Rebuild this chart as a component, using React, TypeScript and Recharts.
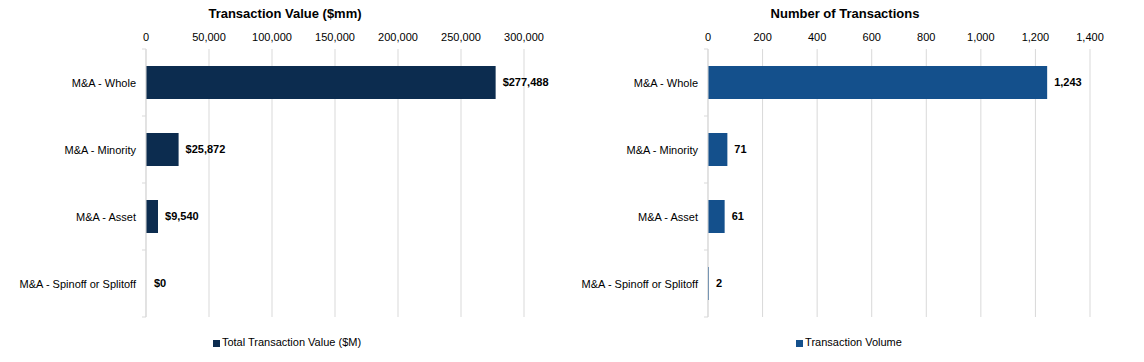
import { BarChart, Bar, XAxis, YAxis, CartesianGrid, Legend, LabelList, Rectangle } from "recharts"

const categories = ["M&A - Whole", "M&A - Minority", "M&A - Asset", "M&A - Spinoff or Splitoff"]
const transactionValue = [277488, 25872, 9540, 0]
const transactionCount = [1243, 71, 61, 2]
const valueTicks = [0, 50000, 100000, 150000, 200000, 250000, 300000]
const countTicks = [0, 200, 400, 600, 800, 1000, 1200, 1400]

const valueData = categories.map((name, i) => ({ name, value: transactionValue[i] }))
const countData = categories.map((name, i) => ({ name, count: transactionCount[i] }))

const FONT = "'Liberation Sans', Arial, sans-serif"
const GRID = "#d9d9d9"
const BAND = 67

const fmt = (v: number) => v.toLocaleString("en-US")

function CategoryTick(props: any) {
  const { x, y, payload, index } = props
  const axisX = x + 10
  const half = payload && payload.offset ? payload.offset : BAND / 2
  return (
    <g>
      <text x={x} y={y} dy={4} textAnchor="end" fontSize={11} fontFamily={FONT} fill="#000">
        {payload.value}
      </text>
      <line x1={axisX - 4} x2={axisX} y1={y - half} y2={y - half} stroke={GRID} />
      {index === categories.length - 1 && <line x1={axisX - 4} x2={axisX} y1={y + half} y2={y + half} stroke={GRID} />}
    </g>
  )
}

function Panel(props: {
  left: number
  width: number
  axisWidth: number
  legendShift: number
  title: string
  data: any[]
  dataKey: string
  ticks: number[]
  color: string
  legend: string
  marginRight: number
  labelFmt: (v: number) => string
}) {
  const { left, width, axisWidth, legendShift, title, data, dataKey, ticks, color, legend, marginRight, labelFmt } = props
  // zero-valued bars keep a 1px slot so their label still shows, but draw nothing
  const barShape = (p: any) => (p.payload && p.payload[dataKey] === 0 ? <g /> : <Rectangle {...p} />)
  return (
    <div style={{ position: "absolute", left, top: 0, width, height: 362 }}>
      <div
        style={{
          position: "absolute",
          top: 6,
          left: 0,
          width,
          textAlign: "center",
          fontFamily: FONT,
          fontWeight: "bold",
          fontSize: 13,
          color: "#000",
        }}
      >
        {title}
      </div>
      <BarChart
        width={width}
        height={362}
        data={data}
        layout="vertical"
        barSize={33}
        margin={{ top: 29, right: marginRight, bottom: 45, left: 0 }}
      >
        <CartesianGrid horizontal={false} stroke={GRID} />
        <XAxis
          type="number"
          orientation="top"
          domain={[ticks[0], ticks[ticks.length - 1]]}
          ticks={ticks}
          tickFormatter={fmt}
          axisLine={false}
          tickLine={false}
          height={20}
          tick={{ fontSize: 11, fontFamily: FONT, fill: "#000" }}
          interval={0}
        />
        <YAxis
          type="category"
          dataKey="name"
          width={axisWidth}
          axisLine={{ stroke: GRID }}
          tickLine={false}
          tickMargin={0}
          tickSize={10}
          tick={<CategoryTick />}
          interval={0}
        />
        <Legend
          verticalAlign="middle"
          align="center"
          layout="horizontal"
          iconType="square"
          iconSize={7}
          wrapperStyle={{ top: 336, left: legendShift, width, fontFamily: FONT, fontSize: 11 }}
          formatter={() => <span style={{ color: "#000", marginLeft: -2 }}>{legend}</span>}
        />
        <Bar dataKey={dataKey} name={legend} fill={color} minPointSize={1} shape={barShape} isAnimationActive={false}>
          <LabelList
            dataKey={dataKey}
            position="right"
            offset={7}
            formatter={(v: any) => labelFmt(Number(v))}
            style={{ fontSize: 11, fontFamily: FONT, fontWeight: "bold", fill: "#000" }}
          />
        </Bar>
      </BarChart>
    </div>
  )
}

export default function App() {
  return (
    <div style={{ position: "absolute", left: 0, top: 0, width: 1144, height: 362, background: "#fff" }}>
      <Panel
        left={0}
        width={570}
        axisWidth={146}
        legendShift={7}
        title="Transaction Value ($mm)"
        data={valueData}
        dataKey="value"
        ticks={valueTicks}
        color="#0c2c4f"
        legend="Total Transaction Value ($M)"
        marginRight={46}
        labelFmt={(v) => "$" + fmt(v)}
      />
      <Panel
        left={570}
        width={550}
        axisWidth={138}
        legendShift={9}
        title="Number of Transactions"
        data={countData}
        dataKey="count"
        ticks={countTicks}
        color="#14508c"
        legend="Transaction Volume"
        marginRight={30}
        labelFmt={fmt}
      />
    </div>
  )
}
